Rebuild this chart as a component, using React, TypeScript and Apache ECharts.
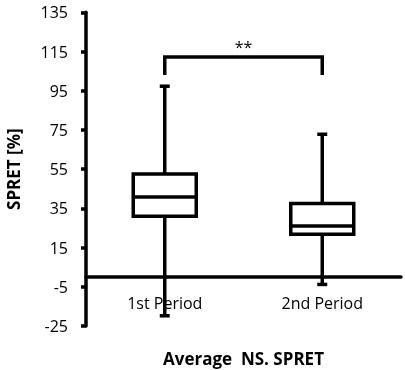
import React, { useEffect, useRef } from "react";
import * as echarts from "echarts";

const categories = ["1st Period", "2nd Period"];
// [min, Q1, median, Q3, max]
const boxValues = [
  [-19.8, 31, 40.8, 52.5, 97.3],
  [-3.8, 21.8, 26, 37.5, 72.8],
];
const yTicks = [-25, -5, 15, 35, 55, 75, 95, 115, 135];
const bracket = { from: 0, to: 1, top: 112.2, foot: 103, label: "**" };

const LW = 3.5;
const Y_MIN = -25;
const Y_MAX = 135;
const GRID_TOP = 12.3;
const GRID_BOTTOM = 44;
const H = 370;

export default function App() {
  const ref = useRef<HTMLDivElement>(null);
  useEffect(() => {
    const chart = echarts.init(ref.current!, null, { renderer: "svg" });
    const boxData = boxValues.map((v, i) => [i, ...v]);
    const gridH = H - GRID_TOP - GRID_BOTTOM;
    const zeroOffset = -((0 - Y_MIN) / (Y_MAX - Y_MIN)) * gridH;
    chart.setOption({
      animation: false,
      grid: { left: 86, right: 4, top: GRID_TOP, bottom: GRID_BOTTOM, outerBoundsMode: "none" },
      xAxis: {
        type: "category",
        data: categories,
        boundaryGap: true,
        offset: zeroOffset,
        axisLine: { onZero: false, lineStyle: { color: "#000", width: LW } },
        axisTick: { show: false },
        axisLabel: { color: "#000", fontFamily: "Open Sans", fontSize: 16, margin: 18 },
        name: "Average  NS. SPRET",
        nameLocation: "middle",
        nameGap: 73,
        nameTextStyle: { color: "#000", fontFamily: "Open Sans", fontWeight: "bold", fontSize: 17 },
        splitLine: { show: false },
      },
      yAxis: {
        type: "value",
        min: Y_MIN,
        max: Y_MAX,
        axisLine: { show: true, lineStyle: { color: "#000", width: LW } },
        axisTick: { show: true, inside: false, length: 5, customValues: yTicks, lineStyle: { color: "#000", width: LW } },
        axisLabel: { color: "#000", fontFamily: "Open Sans", fontSize: 16, margin: 18, customValues: yTicks },
        splitLine: { show: false },
        name: "SPRET [%]",
        nameLocation: "middle",
        nameRotate: 90,
        nameGap: 64,
        nameTextStyle: { color: "#000", fontFamily: "Open Sans", fontWeight: "bold", fontSize: 17 },
      },
      series: [
        {
          type: "custom",
          data: boxData,
          encode: { x: 0, y: [1, 2, 3, 4, 5] },
          z: 3,
          renderItem: (params: any, api: any) => {
            const idx = api.value(0);
            const pMin = api.coord([idx, api.value(1)]);
            const pQ1 = api.coord([idx, api.value(2)]);
            const pMed = api.coord([idx, api.value(3)]);
            const pQ3 = api.coord([idx, api.value(4)]);
            const pMax = api.coord([idx, api.value(5)]);
            const bw = api.size([1, 0])[0] * 0.4;
            const cw = 10;
            const x = pMin[0];
            const st = { stroke: "#000", lineWidth: LW, fill: null };
            return {
              type: "group",
              children: [
                { type: "line", shape: { x1: x, y1: pMin[1], x2: x, y2: pMax[1] }, style: st },
                { type: "line", shape: { x1: x - cw / 2, y1: pMin[1], x2: x + cw / 2, y2: pMin[1] }, style: st },
                { type: "line", shape: { x1: x - cw / 2, y1: pMax[1], x2: x + cw / 2, y2: pMax[1] }, style: st },
                {
                  type: "rect",
                  shape: { x: x - bw / 2, y: pQ3[1], width: bw, height: pQ1[1] - pQ3[1] },
                  style: { stroke: "#000", lineWidth: LW, fill: "#fff" },
                },
                { type: "line", shape: { x1: x - bw / 2, y1: pMed[1], x2: x + bw / 2, y2: pMed[1] }, style: st },
              ],
            };
          },
        },
        {
          type: "custom",
          data: [[bracket.from, bracket.to, bracket.top, bracket.foot]],
          encode: { x: [0, 1], y: [2, 3] },
          z: 3,
          renderItem: (params: any, api: any) => {
            const a = api.coord([api.value(0), api.value(2)]);
            const b = api.coord([api.value(1), api.value(2)]);
            const aF = api.coord([api.value(0), api.value(3)]);
            const bF = api.coord([api.value(1), api.value(3)]);
            return {
              type: "group",
              children: [
                {
                  type: "polyline",
                  shape: { points: [aF, a, b, bF] },
                  style: { stroke: "#000", lineWidth: LW, fill: null },
                },
                {
                  type: "text",
                  style: {
                    text: bracket.label,
                    x: (a[0] + b[0]) / 2,
                    y: a[1] - 2,
                    align: "center",
                    verticalAlign: "bottom",
                    fill: "#000",
                    font: "16px 'Open Sans'",
                  },
                },
              ],
            };
          },
        },
      ],
    });
    return () => chart.dispose();
  }, []);
  return <div ref={ref} style={{ position: "fixed", left: 0, top: 0, width: 405, height: 370 }} />;
}
